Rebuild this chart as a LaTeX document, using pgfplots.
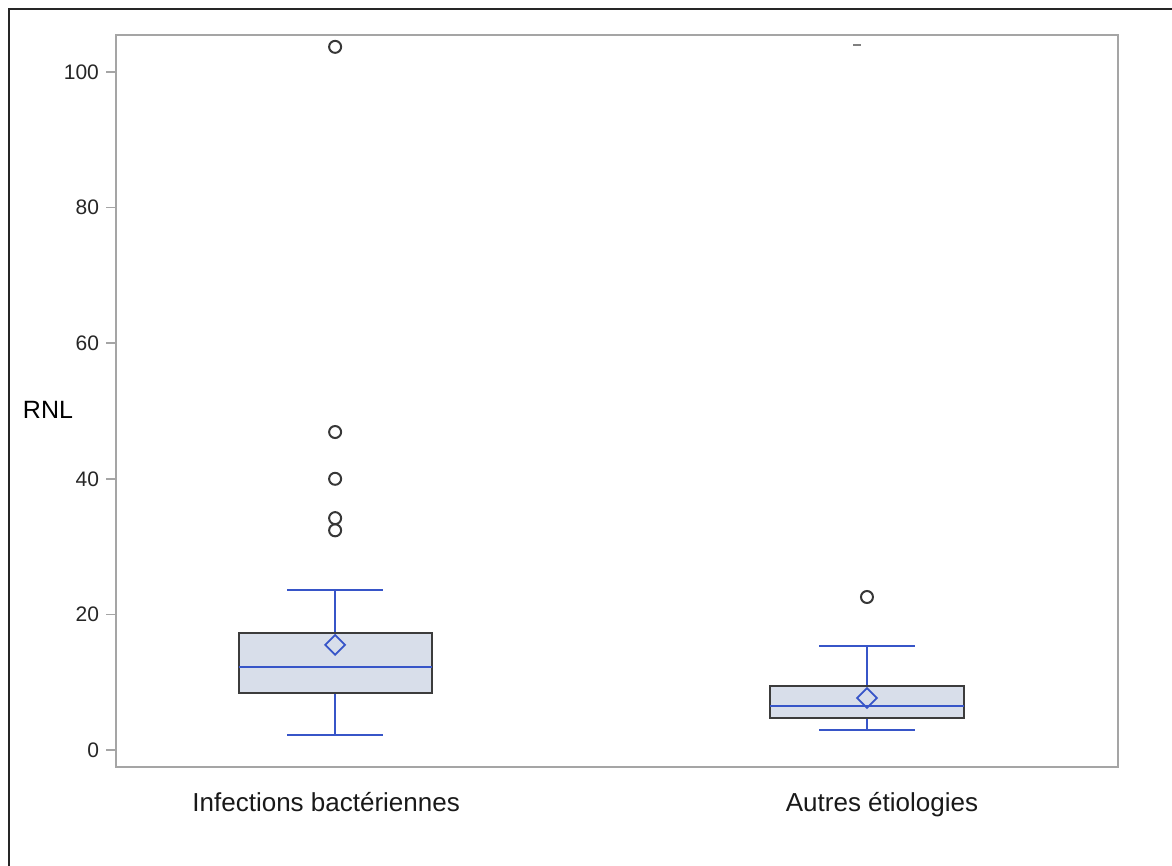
\documentclass[border=0pt]{standalone}
\usepackage{fontspec}
\setmainfont{Liberation Sans}
\usepackage{pgfplots}
\pgfplotsset{compat=1.18}

\definecolor{axgray}{RGB}{165,165,165}
\definecolor{boxedge}{RGB}{60,60,60}
\definecolor{boxfill}{RGB}{216,222,234}
\definecolor{medblue}{RGB}{55,85,200}
\definecolor{outl}{RGB}{55,55,55}

\begin{document}
\begin{tikzpicture}
  \path[use as bounding box] (0,0) rectangle (586pt,433pt);
  \draw[line width=1pt, black!85] (4.5pt,0) -- (4.5pt,428.5pt) -- (586pt,428.5pt);

  \begin{axis}[
    at={(58pt,49.5pt)}, anchor=south west,
    width=501pt, height=366pt, scale only axis,
    xmin=0.588, xmax=2.472, ymin=-2.5, ymax=105.45,
    axis line style={draw=axgray, line width=0.75pt},
    xtick={1,2},
    xticklabels={Infections bactériennes\hspace*{9pt}, \hspace*{15pt}Autres étiologies},
    x tick style={draw=none},
    ytick={0,20,40,60,80,100},
    y tick style={draw=axgray, line width=0.75pt},
    tick align=outside, major tick length=5pt,
    ytick pos=left,
    /pgf/number format/assume math mode=true,
    yticklabel style={font=\fontsize{10.5}{12}\selectfont, text=black!85},
    xticklabel style={font=\fontsize{13}{15}\selectfont, text=black!90, yshift=-4pt},
    ylabel={RNL},
    ylabel style={rotate=-90, anchor=center, at={(rel axis cs:0,0.5)},
      xshift=-34pt, yshift=-4.5pt, font=\fontsize{12.5}{15}\selectfont},
    whisk/.style={draw=medblue, line width=0.8pt},
  ]

  % ---- Infections bacteriennes ----
  % whiskers
  \addplot[whisk] coordinates {(1,17.26) (1,23.6)};
  \addplot[whisk] coordinates {(1,8.4) (1,2.2)};
  \addplot[whisk] coordinates {(0.91,23.6) (1.09,23.6)};
  \addplot[whisk] coordinates {(0.91,2.2) (1.09,2.2)};
  % box (Q1 = 8.4, Q3 = 17.26)
  \addplot[draw=boxedge, fill=boxfill, line width=1pt]
    coordinates {(0.8185,8.4) (1.1815,8.4) (1.1815,17.26) (0.8185,17.26)} --cycle;
  % median
  \addplot[whisk] coordinates {(0.8185,12.24) (1.1815,12.24)};

  % ---- Autres etiologies ----
  \addplot[whisk] coordinates {(2,9.44) (2,15.3)};
  \addplot[whisk] coordinates {(2,4.72) (2,2.95)};
  \addplot[whisk] coordinates {(1.91,15.3) (2.09,15.3)};
  \addplot[whisk] coordinates {(1.91,2.95) (2.09,2.95)};
  \addplot[draw=boxedge, fill=boxfill, line width=1pt]
    coordinates {(1.8185,4.72) (2.1815,4.72) (2.1815,9.44) (1.8185,9.44)} --cycle;
  \addplot[whisk] coordinates {(1.8185,6.49) (2.1815,6.49)};

  % outliers
  \addplot[only marks, mark=o, mark size=3pt,
    mark options={draw=outl, line width=1pt}]
  coordinates {(1,103.7) (1,46.9) (1,40.0) (1,34.2) (1,32.4) (2,22.57)};

  % means
  \addplot[only marks, mark=square, mark size=3.5pt,
    mark options={rotate=45, draw=medblue, line width=0.9pt, fill=none}]
  coordinates {(1,15.5) (2,7.67)};

  % stray dash at top
  \addplot[only marks, mark=-, mark size=2pt,
    mark options={draw=gray, line width=0.8pt}]
  coordinates {(1.981,104.0)};

  \end{axis}
\end{tikzpicture}
\end{document}
